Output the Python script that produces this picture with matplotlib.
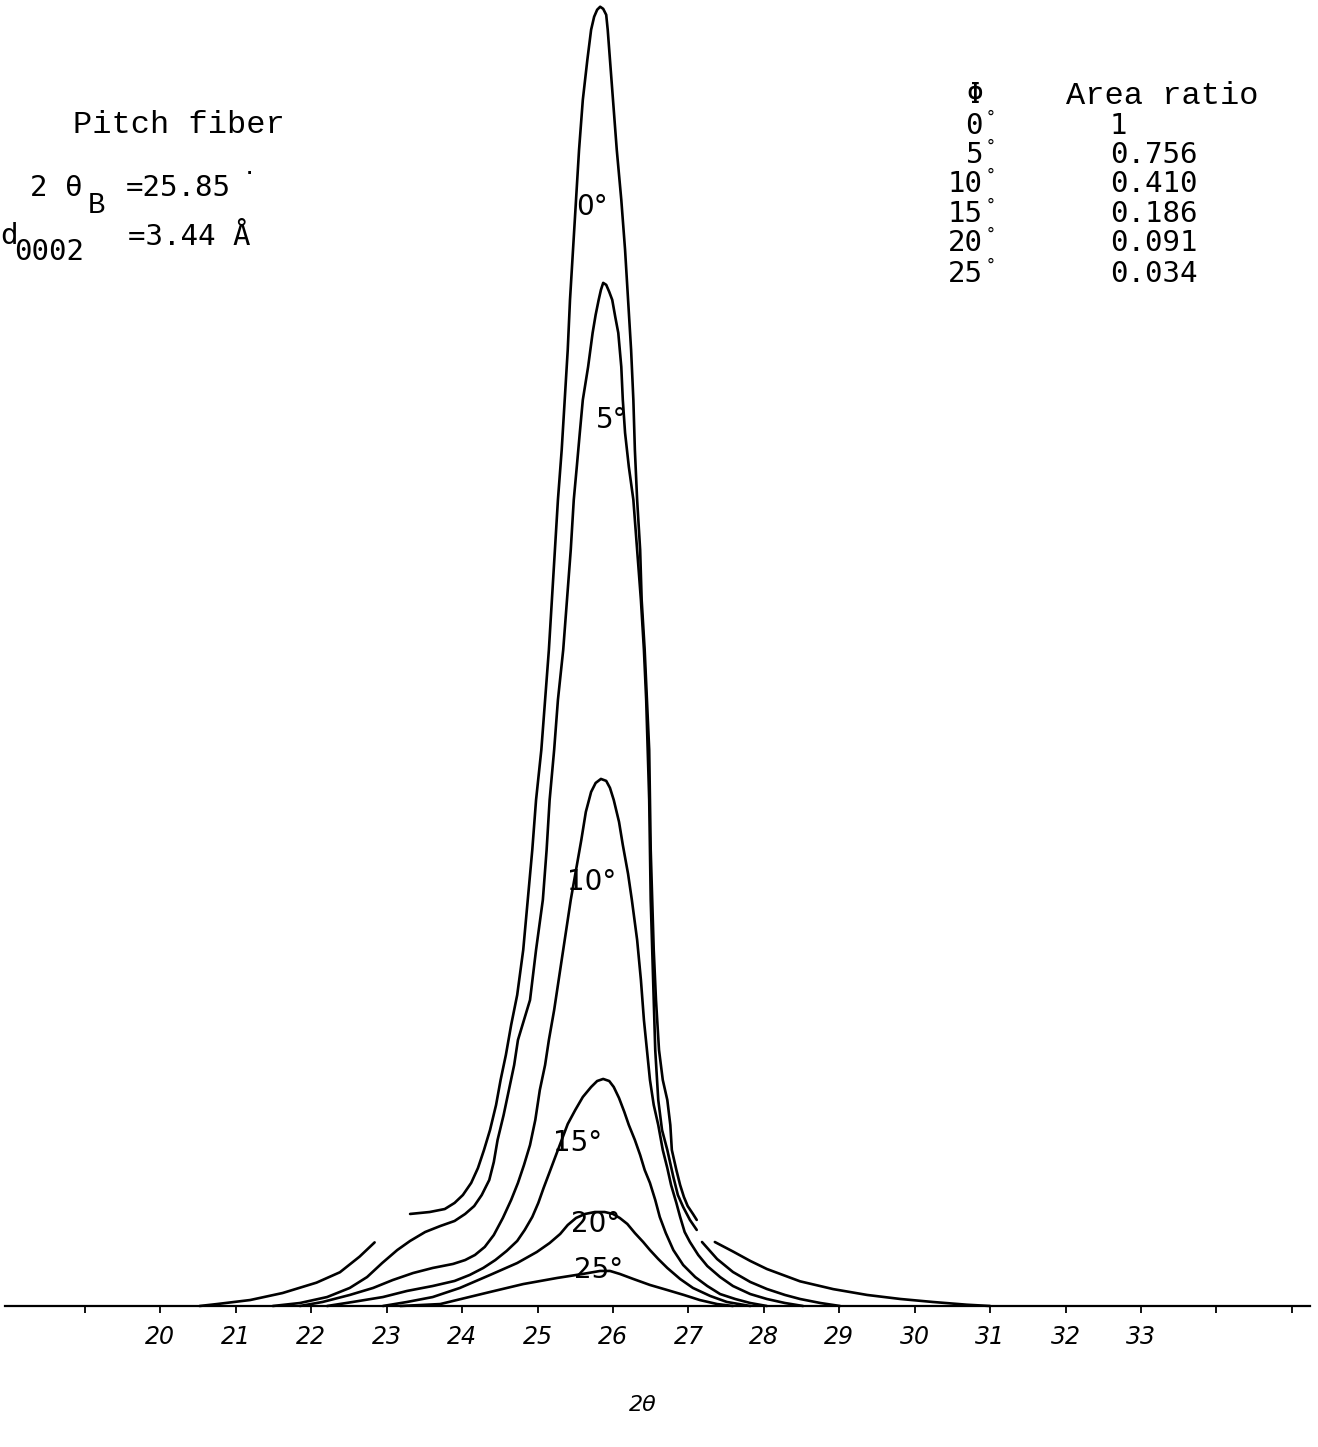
import numpy as np
import matplotlib
matplotlib.use("Agg")
import matplotlib.pyplot as plt

# ================= data =================
# 2theta (deg) / relative intensity (0 deg peak = 100); nan = pen lift
x_0 = [20.52, 20.75, 21.19, 21.62, 22.07, 22.38, 22.64, 22.84, np.nan,
       23.31, 23.57, 23.77, 23.90, 24.01, 24.12, 24.21, 24.29, 24.37, 24.45,
       24.51, 24.58, 24.65, 24.73, 24.81, 24.87, 24.93, 24.98, 25.05, 25.10,
       25.15, 25.19, 25.23, 25.27, 25.32, 25.36, 25.40, 25.43, 25.47, 25.51,
       25.55, 25.60, 25.66, 25.71, 25.75, 25.79, 25.83, 25.87, 25.91, 25.93,
       25.96, 26.00, 26.05, 26.11, 26.16, 26.20, 26.24, 26.27, 26.29, 26.32,
       26.36, 26.38, 26.42, 26.45, 26.48, 26.49, 26.50, 26.52, 26.54, 26.57,
       26.61, 26.66, 26.72, 26.76, 26.78, 26.84, 26.89, 26.94, 26.99, 27.06,
       27.11, np.nan,
       27.35, 27.59, 27.82, 28.04, 28.48, 28.92, 29.37, 29.81, 30.24, 30.69,
       31.00]
y_0 = [0.0, 0.15, 0.46, 1.0, 1.8, 2.6, 3.8, 4.9, np.nan,
       7.09, 7.24, 7.47, 7.94, 8.55, 9.48, 10.63, 12.02, 13.56, 15.49,
       17.41, 19.34, 21.65, 23.96, 27.43, 31.28, 35.13, 38.98, 42.84, 46.69,
       50.54, 54.39, 58.24, 62.10, 65.95, 69.80, 73.65, 77.50, 81.36, 85.21,
       89.06, 92.91, 95.99, 98.31, 99.31, 99.85, 100.08, 99.92, 99.46, 98.31,
       95.99, 92.91, 89.06, 85.21, 81.36, 77.50, 73.65, 69.80, 65.95, 62.10,
       58.24, 54.39, 50.54, 46.69, 42.84, 38.98, 35.13, 31.28, 27.43, 23.57,
       19.72, 17.41, 15.87, 13.94, 12.02, 10.48, 9.32, 8.40, 7.70, 7.09,
       6.63, np.nan,
       4.93, 4.20, 3.47, 2.85, 1.90, 1.30, 0.85, 0.54, 0.31, 0.10,
       0.0]

x_5 = [21.49, 21.85, 22.21, 22.51, 22.74, 22.94, 23.14, 23.31, 23.51, 23.71,
       23.90, 24.04, 24.16, 24.26, 24.36, 24.42, 24.47, 24.55, 24.62, 24.69,
       24.74, 24.82, 24.90, 24.98, 25.07, 25.12, 25.16, 25.22, 25.27, 25.34,
       25.39, 25.44, 25.48, 25.52, 25.56, 25.60, 25.67, 25.73, 25.77, 25.81,
       25.84, 25.87, 25.91, 25.95, 25.99, 26.03, 26.07, 26.11, 26.13, 26.16,
       26.21, 26.27, 26.32, 26.37, 26.41, 26.44, 26.46, 26.48, 26.49, 26.50,
       26.52, 26.54, 26.56, 26.60, 26.65, 26.72, 26.80, 26.86, 26.93, 27.02,
       27.11, np.nan,
       27.18, 27.38, 27.59, 27.82, 28.04, 28.28, 28.48, 28.75, 29.01]
y_5 = [0.0, 0.23, 0.69, 1.39, 2.23, 3.31, 4.31, 5.01, 5.70, 6.16,
       6.55, 7.09, 7.70, 8.55, 9.71, 11.09, 12.79, 14.71, 16.64, 18.57,
       20.49, 22.03, 23.57, 27.43, 31.28, 35.13, 38.98, 42.84, 46.69, 50.54,
       54.39, 58.24, 62.10, 64.64, 67.26, 69.80, 72.34, 74.96, 76.35, 77.50,
       78.27, 78.81, 78.66, 78.12, 77.50, 76.19, 74.96, 72.34, 69.80, 67.26,
       64.64, 62.10, 58.24, 54.39, 50.54, 46.69, 42.84, 38.98, 35.13, 31.28,
       27.43, 23.57, 19.72, 15.87, 13.56, 12.02, 9.94, 8.55, 7.63, 6.63,
       5.86, np.nan,
       4.93, 3.62, 2.62, 1.85, 1.31, 0.85, 0.54, 0.23, 0.0]

x_10 = [21.85, 22.15, 22.51, 22.82, 23.08, 23.35, 23.61, 23.88, 24.04, 24.17,
        24.30, 24.42, 24.54, 24.65, 24.74, 24.82, 24.90, 24.97, 25.03, 25.10,
        25.15, 25.22, 25.28, 25.36, 25.44, 25.51, 25.58, 25.64, 25.71, 25.77,
        25.84, 25.91, 25.96, 26.01, 26.08, 26.13, 26.20, 26.25, 26.32, 26.37,
        26.41, 26.45, 26.49, 26.54, 26.60, 26.66, 26.72, 26.77, 26.84, 26.89,
        26.95, 27.02, 27.13, 27.25, 27.42, 27.59, 27.82, 28.04, 28.28, 28.52]
y_10 = [0.0, 0.31, 0.85, 1.39, 2.00, 2.54, 2.93, 3.24, 3.54, 3.93,
        4.55, 5.47, 6.78, 8.17, 9.48, 10.86, 12.40, 14.33, 16.64, 18.57,
        20.49, 22.80, 25.12, 28.20, 31.28, 33.59, 35.90, 38.06, 39.60, 40.29,
        40.60, 40.45, 39.91, 38.98, 37.29, 35.52, 33.28, 31.28, 28.20, 25.12,
        22.03, 19.72, 17.41, 15.49, 13.94, 12.02, 10.63, 9.32, 7.94, 6.86,
        5.70, 4.93, 3.93, 3.08, 2.23, 1.54, 0.92, 0.54, 0.23, 0.0]

x_15 = [22.21, 22.55, 22.95, 23.27, 23.61, 23.90, 24.10, 24.28, 24.44, 24.59,
        24.73, 24.83, 24.93, 25.01, 25.08, 25.16, 25.24, 25.32, 25.40, 25.50,
        25.60, 25.71, 25.79, 25.87, 25.95, 26.01, 26.08, 26.15, 26.21, 26.29,
        26.36, 26.42, 26.49, 26.56, 26.62, 26.70, 26.80, 26.93, 27.09, 27.25,
        27.42, 27.62, 27.82, 28.04]
y_15 = [0.0, 0.31, 0.69, 1.16, 1.54, 1.93, 2.39, 2.93, 3.54, 4.24,
        5.01, 5.86, 6.86, 7.94, 9.09, 10.32, 11.56, 12.79, 14.02, 15.10,
        16.10, 16.87, 17.33, 17.49, 17.33, 16.87, 16.02, 14.95, 13.94, 12.79,
        11.63, 10.48, 9.48, 8.17, 6.86, 5.62, 4.31, 3.16, 2.23, 1.54,
        0.92, 0.54, 0.23, 0.0]

x_20 = [22.95, 23.27, 23.61, 23.97, 24.37, 24.73, 24.99, 25.16, 25.30, 25.40,
        25.51, 25.63, 25.76, 25.89, 26.00, 26.09, 26.19, 26.29, 26.40, 26.49,
        26.60, 26.72, 26.89, 27.06, 27.29, 27.51, 27.82]
y_20 = [0.0, 0.31, 0.69, 1.39, 2.39, 3.31, 4.16, 4.85, 5.55, 6.24,
        6.78, 7.09, 7.24, 7.24, 7.09, 6.78, 6.32, 5.62, 4.93, 4.31,
        3.62, 2.93, 2.08, 1.39, 0.77, 0.31, 0.0]

x_25 = [23.18, 23.71, 23.93, 24.37, 24.81, 25.26, 25.60, 25.83, 25.96, 26.09,
        26.27, 26.49, 26.72, 26.94, 27.15, 27.38, 27.59]
y_25 = [0.0, 0.15, 0.46, 1.08, 1.69, 2.16, 2.47, 2.70, 2.70, 2.47,
        2.08, 1.62, 1.23, 0.85, 0.46, 0.15, 0.0]

curves = [(x_0, y_0), (x_5, y_5), (x_10, y_10), (x_15, y_15), (x_20, y_20), (x_25, y_25)]

tick_vals = list(range(19, 36))
tick_labels = ["" if (v < 20 or v > 33) else str(v) for v in tick_vals]

phi_labels = ["0", "5", "10", "15", "20", "25"]
area_ratio = ["1", "0.756", "0.410", "0.186", "0.091", "0.034"]

# ================= figure =================
W, H = 1318, 1447
fig = plt.figure(figsize=(W / 100, H / 100), dpi=100)
fig.patch.set_facecolor("white")

BASE = 1306  # baseline pixel row
ax = fig.add_axes([5 / W, (H - BASE) / H, 1305 / W, BASE / H])
ax.set_xlim(17.94, 35.24)
ax.set_ylim(0, 100.6)

for xs, ys in curves:
    ax.plot(xs, ys, color="black", lw=1.9, solid_capstyle="round",
            solid_joinstyle="round", clip_on=False)

for s in ["top", "left", "right"]:
    ax.spines[s].set_visible(False)
ax.spines["bottom"].set_linewidth(1.6)
ax.set_yticks([])
ax.set_xticks(tick_vals)
ax.set_xticklabels(tick_labels, fontsize=17, style="italic", family="DejaVu Sans")
ax.tick_params(axis="x", direction="out", length=5, width=1.3, pad=9)
ax.set_facecolor("none")


def ptext(x, y, s, **kw):
    fig.text(x / W, 1 - y / H, s, **kw)


mono = "Liberation Mono"
smono = "DejaVu Sans Mono"

# top-left annotation
ptext(73, 125, "Pitch fiber", family=mono, fontsize=23, va="center")
ptext(30, 188, "2 θ", family=smono, fontsize=21, va="center")
ptext(88, 205, "B", family=mono, fontsize=21, va="center")
ptext(126, 188, "=25.85", family=smono, fontsize=21, va="center")
ptext(243, 174, "·", family=smono, fontsize=16, va="center")
ptext(0, 236, "d", family=smono, fontsize=21, va="center")
ptext(14, 252, "0002", family=smono, fontsize=21, va="center")
ptext(128, 237, "=3.44 Å", family=smono, fontsize=21, va="center")

# top-right table
ptext(975, 95, "Φ", family=smono, fontsize=20, va="center", ha="center")
ptext(1066, 96, "Area ratio", family=mono, fontsize=23, va="center")
row_y = [126, 155, 184, 214, 243, 274]
for ry, p, a in zip(row_y, phi_labels, area_ratio):
    ptext(983, ry, p, family=smono, fontsize=21, va="center", ha="right")
    ptext(986, ry - 8, "°", family=smono, fontsize=12, va="center")
    ptext(1110, ry, a, family=smono, fontsize=21, va="center")

# curve labels
curve_lbl = [("0°", 592, 207), ("5°", 612, 420), ("10°", 592, 882),
             ("15°", 578, 1143), ("20°", 596, 1224), ("25°", 599, 1270)]
for s, lx, ly in curve_lbl:
    ptext(lx, ly, s, family="DejaVu Sans", fontsize=20, va="center", ha="center")

ptext(643, 1405, "2θ", family="DejaVu Sans", style="italic", fontsize=16,
      va="center", ha="center")

fig.savefig("out.png", dpi=100, facecolor="white")
